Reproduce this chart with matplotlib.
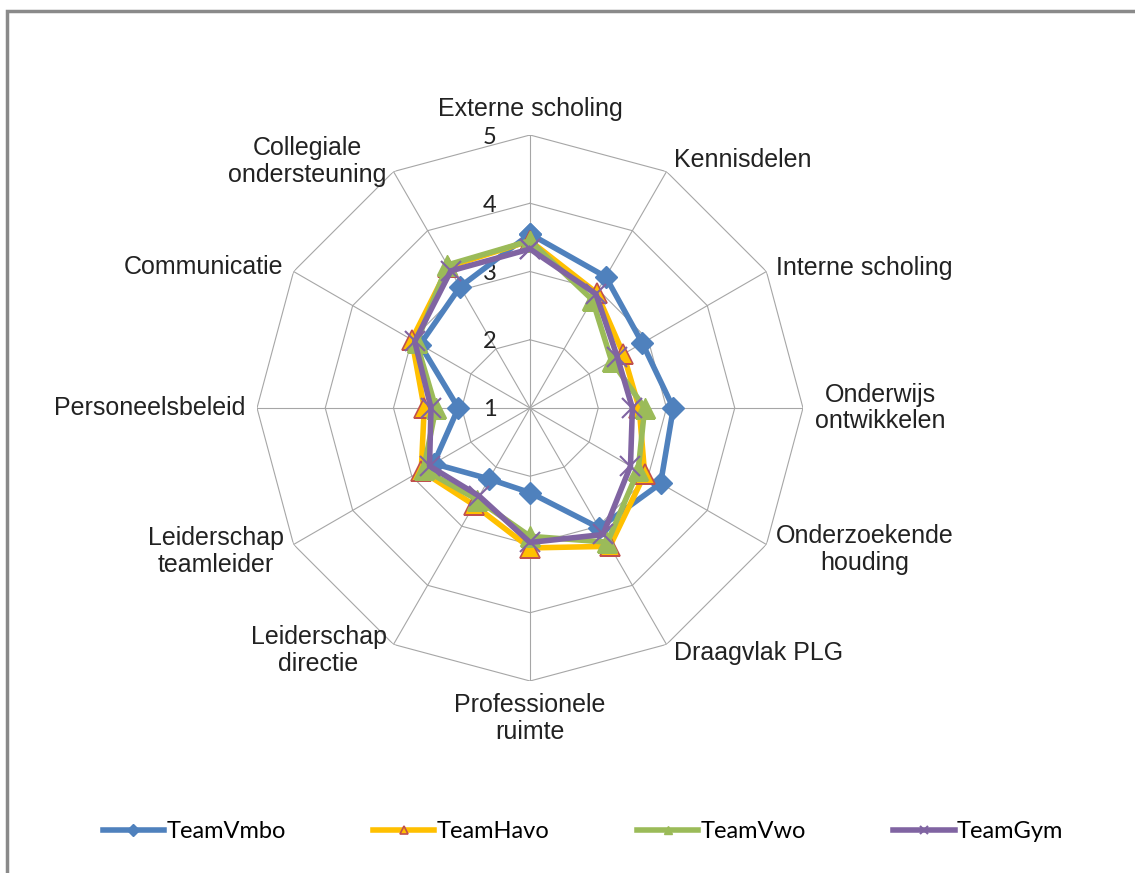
import numpy as np
import matplotlib.pyplot as plt
from matplotlib.lines import Line2D
from matplotlib.patches import Rectangle

categories = ['Externe scholing', 'Kennisdelen', 'Interne scholing', 'Onderwijs\nontwikkelen',
              'Onderzoekende\nhouding', 'Draagvlak PLG', 'Professionele\nruimte', 'Leiderschap\ndirectie',
              'Leiderschap\nteamleider', 'Personeelsbeleid', 'Communicatie', 'Collegiale\nondersteuning']
team_vmbo = [3.55, 3.22, 2.90, 3.10, 3.21, 3.03, 2.24, 2.20, 2.63, 2.05, 2.86, 3.05]
team_havo = [3.45, 2.95, 2.58, 2.60, 2.94, 3.34, 3.05, 2.64, 2.84, 2.55, 3.00, 3.39]
team_vwo = [3.45, 2.83, 2.38, 2.68, 2.83, 3.27, 2.88, 2.55, 2.80, 2.38, 2.92, 3.42]
team_gym = [3.33, 2.93, 2.48, 2.50, 2.70, 3.14, 2.97, 2.49, 2.70, 2.45, 2.95, 3.32]
series_names = ['TeamVmbo', 'TeamHavo', 'TeamVwo', 'TeamGym']
rings = [2, 3, 4, 5]
tick_labels = ['1', '2', '3', '4', '5']

W, H = 1135, 873
fig = plt.figure(figsize=(W / 100, H / 100), dpi=100)
cx, cy, R = 530, 408, 273
ax = fig.add_axes([(cx - R) / W, (H - cy - R) / H, 2 * R / W, 2 * R / H], projection='polar')
ax.set_theta_zero_location('N')
ax.set_theta_direction(-1)
ax.set_ylim(1, 5)
ax.spines['polar'].set_visible(False)
ax.patch.set_visible(False)

n = len(categories)
theta = np.arange(n) * 2 * np.pi / n
theta_c = np.append(theta, theta[0])

grid_col = '#a6a6a6'
ax.set_xticks(theta)
ax.set_xticklabels([])
ax.xaxis.grid(True, color=grid_col, linewidth=0.8)
ax.set_yticks([])
ax.yaxis.grid(False)
for r in rings:
    ax.plot(theta_c, [r] * (n + 1), color=grid_col, linewidth=0.8, zorder=1)

# radial value labels
for i, t in enumerate(tick_labels):
    ax.annotate(t, xy=(0, i + 1), xytext=(-40, -2), textcoords='offset pixels',
                ha='center', va='center', fontsize=17, family='Lato', color='#222222')

# category labels (alignment per position)
aligns = [('center', 'bottom', 0, 14), ('left', 'center', 7, 12), ('left', 'center', 10, 4),
          ('left', 'center', 12, 0), ('left', 'center', 9, -5), ('left', 'center', 7, -9),
          ('center', 'top', 0, -12), ('right', 'center', -7, -6), ('right', 'center', -10, -7),
          ('right', 'center', -12, 0), ('right', 'center', -10, 4), ('right', 'center', -7, 10)]
for t, lab, (ha, va, dx, dy) in zip(theta, categories, aligns):
    ax.annotate(lab, xy=(t, 5), xytext=(dx, dy), textcoords='offset pixels', ha=ha, va=va,
                multialignment='center', fontsize=18, family='Liberation Sans', color='#222222',
                linespacing=1.15, annotation_clip=False)

styles = [
    dict(color='#4f81bd', marker='D', ms=11, mfc='#4f81bd', mec='#4f81bd'),
    dict(color='#ffc000', marker='^', ms=14, mfc='#ffc000', mec='#c0504d', mew=1.2),
    dict(color='#9bbb59', marker='^', ms=14, mfc='#9bbb59', mec='#9bbb59'),
    dict(color='#8064a2', marker='x', ms=14, mfc='#8064a2', mec='#8064a2', mew=1.5),
]
data = [team_vmbo, team_havo, team_vwo, team_gym]
for vals, st in zip(data, styles):
    v = np.append(vals, vals[0])
    ax.plot(theta_c, v, linewidth=4, zorder=3, **st)

handles = []
for st in styles:
    s = dict(st)
    s['ms'] = 6
    handles.append(Line2D([], [], linewidth=4, **s))
fig.legend(handles, series_names, loc='center', bbox_to_anchor=(583 / W, 1 - 832 / H), ncol=4,
           frameon=False, handlelength=2.6, handletextpad=0.1, columnspacing=3.7,
           prop={'family': 'Lato', 'size': 17})

fig.patches.append(Rectangle((7 / W, -0.1), 1.2, 1.1 - 11 / H, transform=fig.transFigure,
                             fill=False, edgecolor='#8a8a8a', linewidth=2.5))

plt.savefig('out.png', dpi=100)
